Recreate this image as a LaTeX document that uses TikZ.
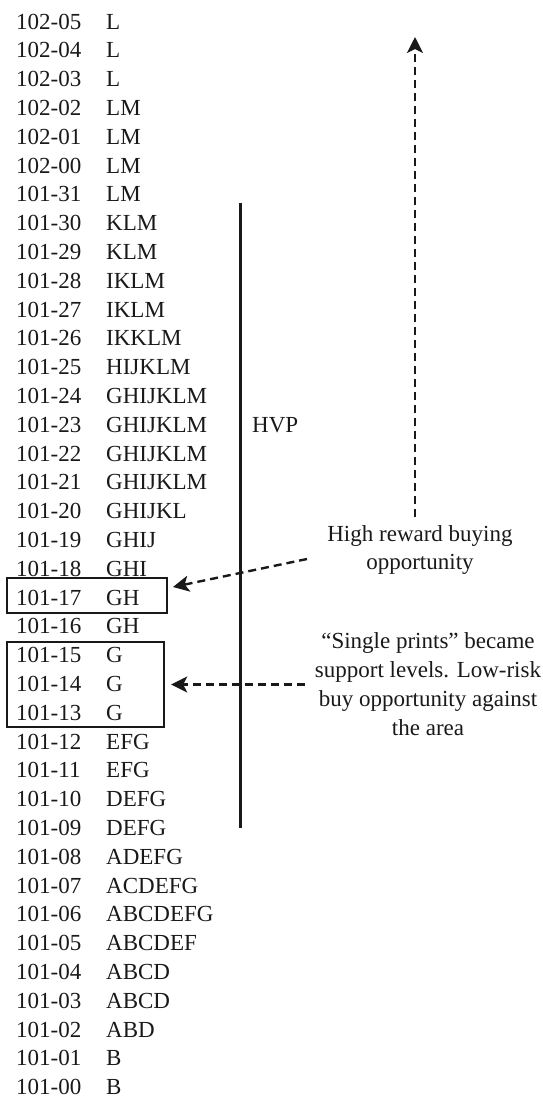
\documentclass[tikz,border=0pt]{standalone}
\usepackage{fontspec}
\setmainfont{Liberation Serif}
\usetikzlibrary{arrows.meta}
\begin{document}
\begin{tikzpicture}[x=1pt,y=-1pt,
  every node/.style={font=\fontsize{23}{28.8}\selectfont, inner sep=0pt, text=black!90},
  lab/.style={anchor=base west},
  dline/.style={dash pattern=on 8pt off 5pt, line width=2.4pt, draw=black!90},
  tipx/.style={-{Stealth[length=16pt,width=16pt,inset=4pt]}},
  boxx/.style={draw=black!90, line width=2.4pt}]
\useasboundingbox (0,0) rectangle (542,1098);
\foreach \n/\l [count=\i from 0] in {102-05/L,102-04/L,102-03/L,102-02/LM,102-01/LM,102-00/LM,101-31/LM,101-30/KLM,101-29/KLM,101-28/IKLM,101-27/IKLM,101-26/IKKLM,101-25/HIJKLM,101-24/GHIJKLM,101-23/GHIJKLM,101-22/GHIJKLM,101-21/GHIJKLM,101-20/GHIJKL,101-19/GHIJ,101-18/GHI,101-17/GH,101-16/GH,101-15/G,101-14/G,101-13/G,101-12/EFG,101-11/EFG,101-10/DEFG,101-09/DEFG,101-08/ADEFG,101-07/ACDEFG,101-06/ABCDEFG,101-05/ABCDEF,101-04/ABCD,101-03/ABCD,101-02/ABD,101-01/B,101-00/B}{
  \node[lab] (n\i) at (16, 29+28.8*\i) {\n};
  \node[lab] (l\i) at (106, 29+28.8*\i) {\l};
}
% HVP line
\coordinate (vtop) at (240.5,203);
\coordinate (vbot) at (240.5,828);
\draw[line width=2.6pt, draw=black!90] (vtop) -- (vbot);
\node[lab] (hvp) at (252, 432) {HVP};
% boxes
\node[boxx, minimum width=160pt, minimum height=35pt] (box1) at (87,595.5) {};
\node[boxx, minimum width=157pt, minimum height=85pt] (box2) at (85.5,684.5) {};
% texts
\node[align=center] (hr) at (420,550) {High reward buying\\opportunity};
\node[align=center] (sp) at (428,684) {``Single prints'' became\\support levels. Low-risk\\buy opportunity against\\the area};
% arrows
\coordinate (upS) at (415,517);
\coordinate (upE) at (415,37);
\draw[dline, tipx] (upS) -- (upE);
\coordinate (a1s) at (307,559);
\coordinate (a1e) at (173,587);
\draw[dline, tipx] (a1s) -- (a1e);
\coordinate (a2s) at (305,684.5);
\draw[dline, tipx, shorten >=6pt] (a2s) -- (a2s -| box2.east);
\end{tikzpicture}
\end{document}
